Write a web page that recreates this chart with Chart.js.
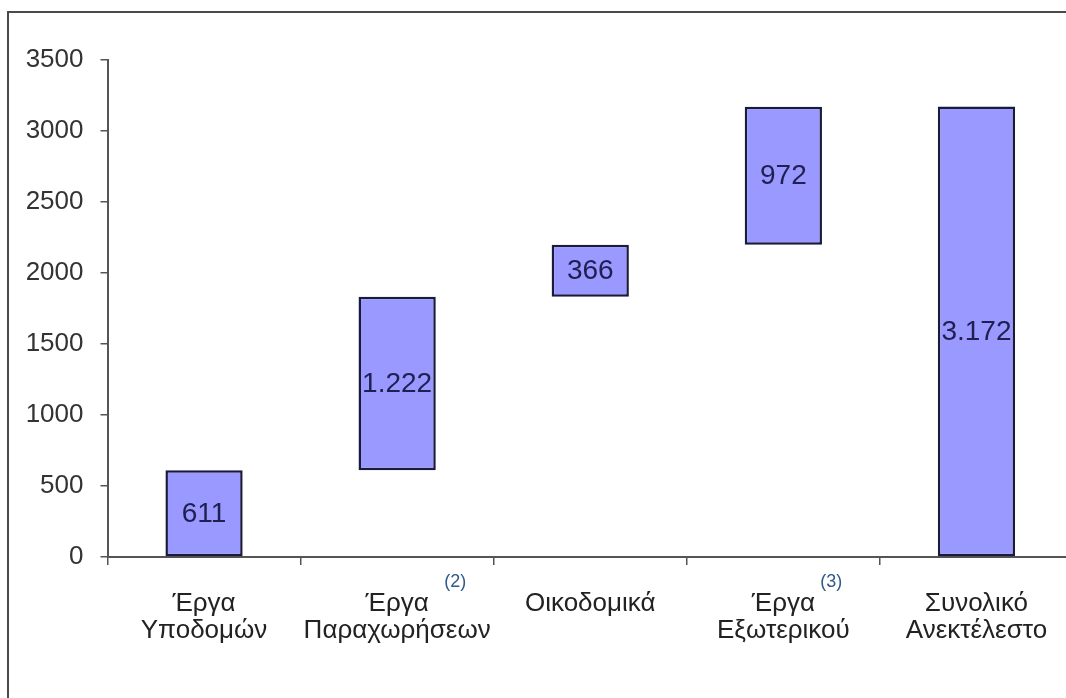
<!DOCTYPE html>
<html>
<head>
<meta charset="utf-8">
<script src="https://cdn.jsdelivr.net/npm/chart.js@4/dist/chart.umd.min.js"></script>
<style>
  html, body { margin: 0; padding: 0; background: #ffffff; overflow: hidden; }
  body { width: 1066px; height: 698px; position: relative; }
  #frame {
    position: absolute; left: 7px; top: 11px; width: 1200px; height: 800px;
    border-left: 2px solid #4a4a4a; border-top: 2px solid #4a4a4a;
    box-sizing: border-box; pointer-events: none;
  }
  #chart { position: absolute; left: 0; top: 0; }
</style>
</head>
<body>
<canvas id="chart" width="1100" height="698"></canvas>
<div id="frame"></div>
<script>
// Backlog build-up (waterfall): each segment stacks on the previous ones,
// the last bar is the overall total.
const categories = [
  ['Έργα', 'Υποδομών'],
  ['Έργα', 'Παραχωρήσεων'],
  'Οικοδομικά',
  ['Έργα', 'Εξωτερικού'],
  ['Συνολικό', 'Ανεκτέλεστο']
];
const values = [611, 1222, 366, 972, 3172];
const isTotal = [false, false, false, false, true];
const notes = ['', '(2)', '', '(3)', ''];
const yTicks = [0, 500, 1000, 1500, 2000, 2500, 3000, 3500];

// floating [start, end] ranges for the waterfall
const ranges = [];
let running = 0;
values.forEach((v, i) => {
  if (isTotal[i]) {
    ranges.push([0, v]);
  } else {
    ranges.push([running, running + v]);
    running += v;
  }
});

// Greek number format: dot as thousands separator
function fmt(v) {
  return String(v).replace(/\B(?=(\d{3})+(?!\d))/g, '.');
}

const FONT = "Arial, 'Liberation Sans', sans-serif";

const barLabels = {
  id: 'barLabels',
  afterDatasetsDraw(chart) {
    const ctx = chart.ctx;
    const meta = chart.getDatasetMeta(0);
    ctx.save();
    ctx.font = '28px ' + FONT;
    ctx.fillStyle = '#1f1f52';
    ctx.textAlign = 'center';
    ctx.textBaseline = 'middle';
    meta.data.forEach((bar, i) => {
      const yMid = (bar.y + bar.base) / 2;
      ctx.fillText(fmt(values[i]), bar.x, yMid + 1);
    });
    ctx.restore();
  }
};

// footnote markers next to the first line of some category labels
const noteMarks = {
  id: 'noteMarks',
  afterDraw(chart, args, opts) {
    const ctx = chart.ctx;
    const xs = chart.scales.x;
    ctx.save();
    ctx.font = '18px ' + FONT;
    ctx.fillStyle = '#2f5a8a';
    ctx.textAlign = 'left';
    ctx.textBaseline = 'middle';
    notes.forEach((n, i) => {
      if (!n) return;
      const x = xs.getPixelForValue(i) + opts.dx[i];
      ctx.fillText(n, x, xs.top + opts.dy);
    });
    ctx.restore();
  }
};

new Chart(document.getElementById('chart'), {
  type: 'bar',
  data: {
    labels: categories,
    datasets: [{
      data: ranges,
      backgroundColor: '#9999ff',
      borderColor: '#1a1a3a',
      borderWidth: 2.5,
      borderSkipped: false,
      barPercentage: 0.8,
      categoryPercentage: 0.5
    }]
  },
  options: {
    responsive: false,
    animation: false,
    devicePixelRatio: 1,
    layout: { padding: { top: 60, right: 27, bottom: 0, left: 0 } },
    plugins: {
      legend: { display: false },
      tooltip: { enabled: false },
      noteMarks: { dx: [0, 47, 0, 37, 0], dy: 25 }
    },
    scales: {
      x: {
        afterFit(s) { s.height = 141; },
        grid: {
          offset: true,
          drawOnChartArea: false,
          drawTicks: true,
          tickLength: 8,
          color: '#555555',
          lineWidth: 1.5
        },
        border: { display: true, color: '#555555', width: 2 },
        ticks: {
          padding: 25,
          color: '#222222',
          font: { family: FONT, size: 26, lineHeight: 1.04 },
          maxRotation: 0,
          autoSkip: false
        }
      },
      y: {
        min: 0,
        max: 3500,
        afterFit(s) { s.width = 107.5; },
        afterBuildTicks(s) { s.ticks = yTicks.map(v => ({ value: v })); },
        grid: {
          drawOnChartArea: false,
          drawTicks: true,
          tickLength: 7,
          color: '#555555',
          lineWidth: 1.5
        },
        border: { display: true, color: '#555555', width: 2 },
        ticks: {
          padding: 17,
          color: '#333333',
          font: { family: FONT, size: 26 },
          callback: v => String(v)
        }
      }
    }
  },
  plugins: [barLabels, noteMarks]
});
</script>
</body>
</html>
